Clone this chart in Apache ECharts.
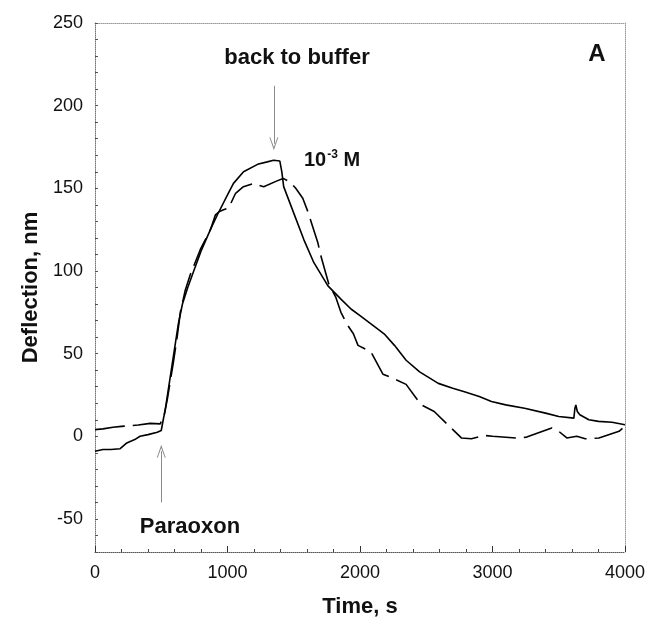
<!DOCTYPE html>
<html>
<head>
<meta charset="utf-8">
<script src="https://cdn.jsdelivr.net/npm/echarts@6/dist/echarts.min.js"></script>
<style>html,body{margin:0;padding:0;background:#fff}#c{width:650px;height:624px}</style>
</head>
<body>
<div id="c"></div>
<script>
// Solid curve: [time s, deflection nm]
const solidTime = [0,60,120,190,240,300,340,400,470,500,515,530,553,591,629,660,700,750,800,871,924,1000,1045,1121,1227,1300,1348,1395,1410,1424,1500,1576,1652,1758,1856,1932,2000,2100,2182,2260,2348,2450,2591,2700,2788,2900,2992,3100,3242,3400,3500,3614,3622,3629,3640,3659,3727,3800,3902,4000];
const solidDefl = [-9,-8,-8,-7.5,-4,-2,0,1,2.5,3.5,10,16,28,48,68,80,90,101,112,125,134,146,153,160,164.5,166,167,166.5,160,151,135,119,105,91,83,77,73,67,62,55,46,39,32,29,27,24,21,19,17,14,12,11,17,19,15,13,10,9,8.5,7];
// Dashed curve
const dashTime = [0,60,136,200,326,417,492,507,520,530,545,590,620,644,680,720,795,871,909,940,970,1008,1061,1120,1200,1230,1273,1374,1420,1470,1515,1568,1606,1682,1705,1765,1818,1856,1900,1950,1985,2083,2174,2235,2348,2462,2560,2765,2841,2939,3000,3200,3258,3447,3500,3561,3636,3700,3803,3955,4000];
const dashDefl = [4,4.5,5.5,6,6.8,7.8,7.5,8,12,16,22,44,60,75,88,98,113,125,134,136,137,138,147,151,153,152,151,154.5,156,154,150,144,136,117,109,92,84,75,68,62,55,51,37.5,35.6,31.4,19,15,-1,-1.5,0.5,0,-1.2,-0.5,5,3,-1,0,-1.5,-1,3,6];
// Axis ticks
const xTickLabels = [0,1000,2000,3000,4000];
const yTickLabels = [-50,0,50,100,150,200,250];
// Annotation arrows [time, deflection] start -> end
const bufferArrow = [[1350,212],[1350,177]];
const paraoxonArrow = [[500,-40],[500,-9]];

const FONT = "'Liberation Sans', Arial, sans-serif";
const pairs = (xs, ys) => xs.map((x, i) => [x, ys[i]]);
const arrowSym = 'path://M5,0 L10,12 L9,12 L5,3 L1,12 L0,12 Z';

const chart = echarts.init(document.getElementById('c'), null, {renderer: 'canvas'});
const frameLine = {show: true, lineStyle: {color: '#9a9a9a', type: 'dotted', width: 1}};
chart.setOption({
  animation: false,
  backgroundColor: '#fff',
  grid: {left: 95, right: 25, top: 23, bottom: 72, containLabel: false},
  xAxis: [{
    type: 'value', min: 0, max: 4000, interval: 1000, position: 'bottom',
    axisLine: {show: true, onZero: false, lineStyle: {color: '#555', type: 'dotted', width: 1}},
    axisTick: {show: true, inside: true, length: 6, lineStyle: {color: '#333'}},
    minorTick: {show: true, splitNumber: 5, length: 3, lineStyle: {color: '#444'}},
    splitLine: {show: false},
    axisLabel: {fontSize: 18, color: '#111', fontFamily: FONT, margin: 12,
      formatter: v => xTickLabels.includes(v) ? String(v) : ''},
    name: 'Time, s', nameLocation: 'middle', nameGap: 44,
    nameTextStyle: {fontSize: 22, fontWeight: 'bold', color: '#111', fontFamily: FONT}
  }, {
    type: 'value', min: 0, max: 4000, position: 'top',
    axisLine: Object.assign({onZero: false}, frameLine),
    axisTick: {show: false}, axisLabel: {show: false}, splitLine: {show: false}
  }],
  yAxis: [{
    type: 'value', min: -70, max: 250, interval: 10, position: 'left',
    axisLine: {show: true, onZero: false, lineStyle: {color: '#777', type: 'dotted', width: 1}},
    axisTick: {show: true, inside: true, length: 3, lineStyle: {color: '#555'}},
    splitLine: {show: false},
    axisLabel: {fontSize: 18, color: '#111', fontFamily: FONT, margin: 12,
      formatter: v => yTickLabels.includes(v) ? String(v) : ''},
    name: 'Deflection, nm', nameLocation: 'middle', nameGap: 52, nameRotate: 90,
    nameTextStyle: {fontSize: 22, fontWeight: 'bold', color: '#111', fontFamily: FONT}
  }, {
    type: 'value', min: -70, max: 250, position: 'right',
    axisLine: Object.assign({onZero: false}, frameLine),
    axisTick: {show: false}, axisLabel: {show: false}, splitLine: {show: false}
  }],
  series: [{
    name: 'solid', type: 'line', data: pairs(solidTime, solidDefl),
    showSymbol: false, symbol: 'none', smooth: false,
    lineStyle: {color: '#000', width: 1.6},
    markLine: {
      silent: true, animation: false,
      symbol: ['none', arrowSym], symbolSize: [9, 13],
      label: {show: false},
      lineStyle: {color: '#8a8a8a', width: 1, type: 'solid'},
      data: [
        [{coord: bufferArrow[0]}, {coord: bufferArrow[1]}],
        [{coord: paraoxonArrow[0]}, {coord: paraoxonArrow[1]}]
      ]
    }
  }, {
    name: 'dashed', type: 'line', data: pairs(dashTime, dashDefl),
    showSymbol: false, symbol: 'none', smooth: false,
    lineStyle: {color: '#000', width: 1.6, type: [30, 8]}
  }],
  graphic: [
    {type: 'text', x: 297, y: 58, style: {text: 'back to buffer', fontSize: 22, fontWeight: 'bold', fontFamily: FONT, fill: '#111', textAlign: 'center', textVerticalAlign: 'middle'}},
    {type: 'text', x: 597, y: 54, style: {text: 'A', fontSize: 24, fontWeight: 'bold', fontFamily: FONT, fill: '#111', textAlign: 'center', textVerticalAlign: 'middle'}},
    {type: 'text', x: 304, y: 160, style: {
      text: '{a|10}{s|-3}{a| M}', fill: '#111', textAlign: 'left', textVerticalAlign: 'middle',
      rich: {
        a: {fontSize: 20, fontWeight: 'bold', fontFamily: FONT, fill: '#111'},
        s: {fontSize: 12, fontWeight: 'bold', fontFamily: FONT, fill: '#111', verticalAlign: 'top', padding: [0, 0, 10, 1]}
      }}},
    {type: 'text', x: 190, y: 527, style: {text: 'Paraoxon', fontSize: 22, fontWeight: 'bold', fontFamily: FONT, fill: '#111', textAlign: 'center', textVerticalAlign: 'middle'}}
  ]
});
</script>
</body>
</html>
